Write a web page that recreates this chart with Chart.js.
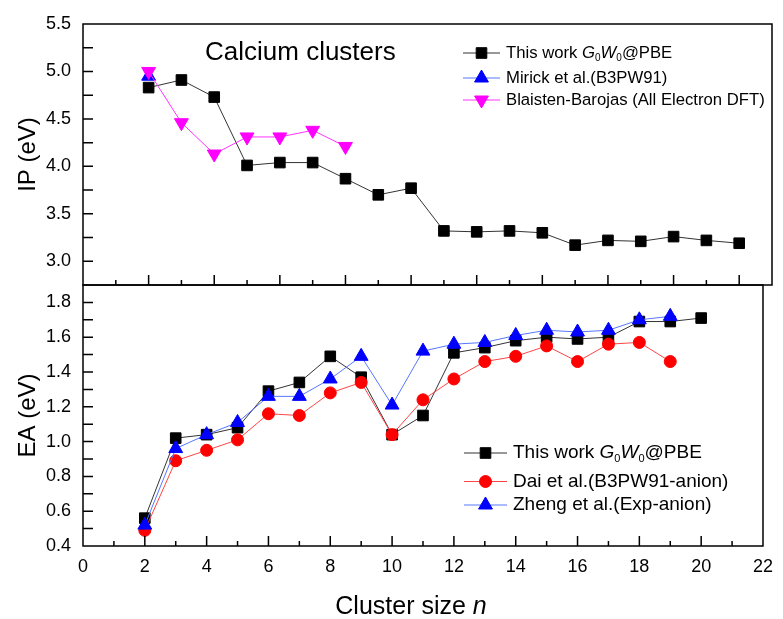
<!DOCTYPE html>
<html>
<head>
<meta charset="utf-8">
<script src="https://cdn.jsdelivr.net/npm/chart.js@4.4.1/dist/chart.umd.min.js"></script>
<style>
    html, body { margin: 0; padding: 0; background: #fff; }
    #wrap { position: relative; width: 783px; height: 619px; }
    #wrap canvas { position: absolute; left: 0; top: 0; }
</style>
</head>
<body>
<div id="wrap">
    <canvas id="ipChart" width="783" height="619"></canvas>
    <canvas id="eaChart" width="783" height="619"></canvas>
</div>
<script>
// ---- data ----
// Ionization potential (top panel)
const ipSizes = [2, 3, 4, 5, 6, 7, 8, 9, 10, 11, 12, 13, 14, 15, 16, 17, 18, 19, 20];
const ipThisWork = [4.83, 4.91, 4.73, 4.01, 4.04, 4.04, 3.87, 3.70, 3.77, 3.32, 3.31, 3.32, 3.30, 3.17, 3.22, 3.21, 3.26, 3.22, 3.19];
const ipMirickSizes = [2];
const ipMirick = [4.95];
const ipBlaistenSizes = [2, 3, 4, 5, 6, 7, 8];
const ipBlaisten = [5.00, 4.46, 4.13, 4.31, 4.31, 4.38, 4.21];

// Electron affinity (bottom panel)
const eaSizes = [2, 3, 4, 5, 6, 7, 8, 9, 10, 11, 12, 13, 14, 15, 16, 17, 18, 19, 20];
const eaThisWork = [0.56, 1.02, 1.04, 1.08, 1.29, 1.34, 1.49, 1.37, 1.04, 1.15, 1.51, 1.54, 1.58, 1.60, 1.59, 1.60, 1.69, 1.69, 1.71];
const eaRefSizes = [2, 3, 4, 5, 6, 7, 8, 9, 10, 11, 12, 13, 14, 15, 16, 17, 18, 19];
const eaDai = [0.49, 0.89, 0.95, 1.01, 1.16, 1.15, 1.28, 1.34, 1.04, 1.24, 1.36, 1.46, 1.49, 1.55, 1.46, 1.56, 1.57, 1.46];
const eaZheng = [0.52, 0.96, 1.04, 1.11, 1.26, 1.26, 1.36, 1.49, 1.21, 1.52, 1.56, 1.57, 1.61, 1.64, 1.63, 1.64, 1.70, 1.72];

// tick labels
const ipTicks = [3.0, 3.5, 4.0, 4.5, 5.0, 5.5];
const eaTicks = [0.4, 0.6, 0.8, 1.0, 1.2, 1.4, 1.6, 1.8];
const sizeTicks = [0, 2, 4, 6, 8, 10, 12, 14, 16, 18, 20, 22];

const FONT = '"Liberation Sans", Arial, Helvetica, sans-serif';
const thisWorkLabel = [
    { text: 'This work ' }, { text: 'G', italic: true }, { text: '0', sub: true },
    { text: 'W', italic: true }, { text: '0', sub: true }, { text: '@PBE' }
];

function toXY(xs, ys) {
    return ys.map((v, i) => ({ x: xs[i], y: v }));
}

// draw a run of text pieces (italic / subscript)
function drawRuns(ctx, x, y, runs, size) {
    runs.forEach(r => {
        const s = r.sub ? Math.round(size * 0.6) : size;
        ctx.font = (r.italic ? 'italic ' : '') + s + 'px ' + FONT;
        ctx.fillText(r.text, x, r.sub ? y + size * 0.3 : y);
        x += ctx.measureText(r.text).width;
    });
}

/**
 * Frame, inward ticks, legend and free texts
 */
const panelDecor = {
    id: 'panelDecor',
    afterDraw(chart, args, opts) {
        const { ctx, chartArea: a } = chart;
        const x = chart.scales.x, y = chart.scales.y;
        ctx.save();
        ctx.strokeStyle = '#000';
        ctx.lineWidth = 1.5;
        ctx.strokeRect(a.left, a.top, a.right - a.left, a.bottom - a.top);

        // y ticks (all same length)
        ctx.beginPath();
        for (let v = opts.yStart; v <= opts.yEnd + 1e-9; v += opts.yStep) {
            const py = y.getPixelForValue(v);
            ctx.moveTo(a.left, py);
            ctx.lineTo(a.left + 10, py);
        }
        // x ticks, long on even, short on odd
        for (let n = 1; n < x.max; n++) {
            const px = x.getPixelForValue(n);
            const len = n % 2 === 0 ? 10 : 5;
            ctx.moveTo(px, a.bottom);
            ctx.lineTo(px, a.bottom - len);
        }
        ctx.stroke();

        // legend
        const lg = opts.legend;
        ctx.textBaseline = 'middle';
        ctx.textAlign = 'left';
        lg.rows.forEach((row, i) => {
            const ds = chart.data.datasets[row.index];
            const ly = lg.y[i];
            ctx.strokeStyle = ds.borderColor;
            ctx.lineWidth = 1;
            ctx.beginPath();
            ctx.moveTo(lg.x1, ly);
            ctx.lineTo(lg.x2, ly);
            ctx.stroke();
            ctx.fillStyle = ds.pointBackgroundColor;
            ctx.strokeStyle = ds.pointBorderColor;
            ctx.lineWidth = 1;
            Chart.helpers.drawPoint(ctx, {
                pointStyle: ds.pointStyle,
                radius: ds.pointRadius,
                rotation: ds.pointRotation || 0,
                borderWidth: 1
            }, (lg.x1 + lg.x2) / 2, ly);
            ctx.fillStyle = '#000';
            drawRuns(ctx, lg.textX, ly, row.runs, lg.size);
        });

        // extra texts
        (opts.texts || []).forEach(t => {
            ctx.fillStyle = '#000';
            ctx.textBaseline = 'middle';
            ctx.textAlign = 'left';
            let runs = t.runs;
            let sx = t.x;
            if (t.center) {
                let w = 0;
                runs.forEach(r => {
                    ctx.font = (r.italic ? 'italic ' : '') + t.size + 'px ' + FONT;
                    w += ctx.measureText(r.text).width;
                });
                sx = t.x - w / 2;
            }
            drawRuns(ctx, sx, t.y, runs, t.size);
        });
        ctx.restore();
    }
};

function yScale(min, max, ticks, title) {
    return {
        type: 'linear',
        min: min,
        max: max,
        afterFit: s => { s.width = 83; },
        afterBuildTicks: s => { s.ticks = ticks.map(v => ({ value: v })); },
        grid: { display: false, drawTicks: false },
        border: { display: false },
        ticks: {
            padding: 12,
            color: '#000',
            font: { family: FONT, size: 18 },
            callback: v => Number(v).toFixed(1)
        },
        title: {
            display: true,
            text: title,
            color: '#000',
            font: { family: FONT, size: 24 },
            padding: { top: 14, bottom: 0 }
        }
    };
}

const commonOptions = {
    responsive: false,
    animation: false,
    events: [],
    plugins: { legend: { display: false }, tooltip: { enabled: false } },
    elements: { line: { tension: 0 } }
};

// ---- top panel: IP ----
new Chart(document.getElementById('ipChart'), {
    type: 'line',
    data: {
        datasets: [{
            label: 'This work G0W0@PBE',
            data: toXY(ipSizes, ipThisWork),
            borderColor: '#333333',
            borderWidth: 1,
            pointStyle: 'rect',
            pointRadius: 7.5,
            pointBackgroundColor: '#000000',
            pointBorderColor: '#000000',
            pointBorderWidth: 1,
            order: 3
        }, {
            label: 'Mirick et al.(B3PW91)',
            data: toXY(ipMirickSizes, ipMirick),
            borderColor: '#5577ff',
            borderWidth: 1,
            pointStyle: 'triangle',
            pointRadius: 8,
            pointBackgroundColor: '#0000ff',
            pointBorderColor: '#0000ff',
            pointBorderWidth: 1,
            order: 2
        }, {
            label: 'Blaisten-Barojas (All Electron DFT)',
            data: toXY(ipBlaistenSizes, ipBlaisten),
            borderColor: '#ff33ff',
            borderWidth: 1,
            pointStyle: 'triangle',
            pointRotation: 180,
            pointRadius: 8,
            pointBackgroundColor: '#ff00ff',
            pointBorderColor: '#ff00ff',
            pointBorderWidth: 1,
            order: 1
        }]
    },
    options: Object.assign({}, commonOptions, {
        layout: { padding: { left: 0, right: 11, top: 24, bottom: 334 } },
        scales: {
            x: { type: 'linear', min: 0, max: 21, display: false },
            y: yScale(2.75, 5.5, ipTicks, 'IP (eV)')
        },
        plugins: Object.assign({}, commonOptions.plugins, {
            panelDecor: {
                yStart: 3.0, yEnd: 5.25, yStep: 0.25,
                legend: {
                    x1: 463, x2: 500, textX: 506, size: 16.7,
                    y: [53, 78, 100],
                    rows: [
                        { index: 0, runs: thisWorkLabel },
                        { index: 1, runs: [{ text: 'Mirick et al.(B3PW91)' }] },
                        { index: 2, runs: [{ text: 'Blaisten-Barojas (All Electron DFT)' }] }
                    ]
                },
                texts: [{ x: 205, y: 53, size: 26, runs: [{ text: 'Calcium clusters' }] }]
            }
        })
    }),
    plugins: [panelDecor]
});

// ---- bottom panel: EA ----
new Chart(document.getElementById('eaChart'), {
    type: 'line',
    data: {
        datasets: [{
            label: 'This work G0W0@PBE',
            data: toXY(eaSizes, eaThisWork),
            borderColor: '#333333',
            borderWidth: 1,
            pointStyle: 'rect',
            pointRadius: 7.5,
            pointBackgroundColor: '#000000',
            pointBorderColor: '#000000',
            pointBorderWidth: 1,
            order: 3
        }, {
            label: 'Dai et al.(B3PW91-anion)',
            data: toXY(eaRefSizes, eaDai),
            borderColor: '#ff4444',
            borderWidth: 1,
            pointStyle: 'circle',
            pointRadius: 6,
            pointBackgroundColor: '#ff0000',
            pointBorderColor: '#ff0000',
            pointBorderWidth: 1,
            order: 2
        }, {
            label: 'Zheng et al.(Exp-anion)',
            data: toXY(eaRefSizes, eaZheng),
            borderColor: '#5577ff',
            borderWidth: 1,
            pointStyle: 'triangle',
            pointRadius: 8,
            pointBackgroundColor: '#0000ff',
            pointBorderColor: '#0000ff',
            pointBorderWidth: 1,
            order: 1
        }]
    },
    options: Object.assign({}, commonOptions, {
        layout: { padding: { left: 0, right: 11, top: 285, bottom: 0 } },
        scales: {
            x: {
                type: 'linear',
                min: 0,
                max: 22,
                afterFit: s => { s.height = 73; },
                afterBuildTicks: s => { s.ticks = sizeTicks.map(v => ({ value: v })); },
                grid: { display: false, drawTicks: false },
                border: { display: false },
                ticks: { padding: 10, color: '#000', font: { family: FONT, size: 18 } }
            },
            y: yScale(0.4, 1.9, eaTicks, 'EA (eV)')
        },
        plugins: Object.assign({}, commonOptions.plugins, {
            panelDecor: {
                yStart: 0.5, yEnd: 1.85, yStep: 0.1,
                legend: {
                    x1: 464, x2: 507, textX: 513, size: 19,
                    y: [453, 481.5, 505],
                    rows: [
                        { index: 0, runs: thisWorkLabel },
                        { index: 1, runs: [{ text: 'Dai et al.(B3PW91-anion)' }] },
                        { index: 2, runs: [{ text: 'Zheng et al.(Exp-anion)' }] }
                    ]
                },
                texts: [{
                    x: 411, y: 607, size: 25, center: true,
                    runs: [{ text: 'Cluster size ' }, { text: 'n', italic: true }]
                }]
            }
        })
    }),
    plugins: [panelDecor]
});
</script>
</body>
</html>
